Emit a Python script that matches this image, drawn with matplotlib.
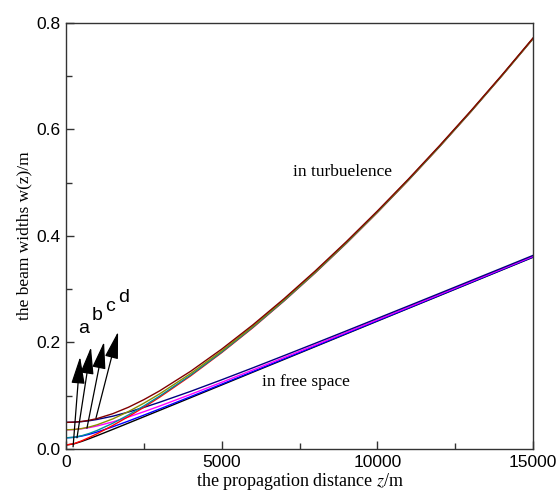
import matplotlib.pyplot as plt

# propagation distance (m)
z = [0, 250, 500, 750, 1000, 1500, 2000, 2500, 3000, 4000, 5000, 6000,
     7000, 8000, 9000, 10000, 11000, 12000, 13000, 14000, 15000]

# free space beam widths (m)
free_a = [0.0075, 0.0096, 0.0142, 0.0195, 0.0251, 0.0368, 0.0486, 0.0605, 0.0724, 0.0963, 0.1202,
          0.1442, 0.1681, 0.1921, 0.2161, 0.2401, 0.2641, 0.2880, 0.3120, 0.3360, 0.3600]
free_b = [0.021, 0.0218, 0.0242, 0.0277, 0.0319, 0.0417, 0.0524, 0.0636, 0.075, 0.0983, 0.1218,
          0.1455, 0.1693, 0.1931, 0.2170, 0.2409, 0.2648, 0.2888, 0.3127, 0.3367, 0.3606]
free_c = [0.036, 0.0365, 0.038, 0.0402, 0.0433, 0.0509, 0.06, 0.07, 0.0805, 0.1025, 0.1253,
          0.1484, 0.1718, 0.1953, 0.219, 0.2427, 0.2664, 0.2902, 0.3141, 0.3379, 0.3618]
free_d = [0.05, 0.0504, 0.0514, 0.0531, 0.0555, 0.0616, 0.0693, 0.0781, 0.0877, 0.1082, 0.13,
          0.1524, 0.1753, 0.1984, 0.2217, 0.2452, 0.2687, 0.2923, 0.316, 0.3397, 0.3635]

# beam widths in turbulence (m)
turb_a = [0.0075, 0.0099, 0.0153, 0.0218, 0.0288, 0.0442, 0.0608, 0.0784, 0.0971, 0.1373, 0.181,
          0.2278, 0.2778, 0.3305, 0.386, 0.4441, 0.5047, 0.5677, 0.633, 0.7006, 0.7702]
turb_b = [0.021, 0.022, 0.0249, 0.0293, 0.0349, 0.0483, 0.0638, 0.0809, 0.0991, 0.1387, 0.182,
          0.2287, 0.2784, 0.3311, 0.3865, 0.4446, 0.5051, 0.568, 0.6333, 0.7008, 0.7705]
turb_c = [0.036, 0.0366, 0.0384, 0.0414, 0.0455, 0.0565, 0.0702, 0.086, 0.1033, 0.1417, 0.1843,
          0.2305, 0.28, 0.3324, 0.3876, 0.4455, 0.506, 0.5688, 0.634, 0.7014, 0.771]
turb_d = [0.05, 0.0504, 0.0517, 0.054, 0.0572, 0.0663, 0.0783, 0.0927, 0.109, 0.1459, 0.1876,
          0.2331, 0.2821, 0.3342, 0.3892, 0.4469, 0.5071, 0.5699, 0.6349, 0.7023, 0.7718]

labels = ['a', 'b', 'c', 'd']
arrow_tails = [(225, 0.004), (350, 0.021), (670, 0.039), (960, 0.058)]
arrow_heads = [(450, 0.173), (800, 0.191), (1220, 0.201), (1670, 0.220)]
label_pos = [(560, 0.226), (1000, 0.250), (1420, 0.268), (1850, 0.285)]

plt.rcParams['mathtext.fontset'] = 'stix'
fig = plt.figure(figsize=(5.6, 4.99), dpi=100)
ax = fig.add_axes([0.118, 0.1002, 0.834, 0.854])

free = [free_a, free_b, free_c, free_d]
turb = [turb_a, turb_b, turb_c, turb_d]
free_cols = ['black', '#0000ff', '#ff00ff', '#000080']
turb_cols = ['#ff0000', '#008c9c', '#8c8c00', '#800000']
for w, c in zip(free, free_cols):
    ax.plot(z, w, color=c, lw=1.0)
for w, c in zip(turb, turb_cols):
    ax.plot(z, w, color=c, lw=1.0)

for t, h, lab, p in zip(arrow_tails, arrow_heads, labels, label_pos):
    ax.annotate('', xy=h, xytext=t,
                arrowprops=dict(arrowstyle='-|>,head_length=1.2,head_width=0.3',
                                mutation_scale=14, color='black', lw=0.9,
                                shrinkA=0, shrinkB=0))
    ax.text(p[0], p[1], lab, fontsize=14, family='Liberation Sans', ha='center', va='center')

ax.text(7290, 0.52, 'in turbuelence', fontsize=12.5, family='Liberation Serif', va='center')
ax.text(6300, 0.126, 'in free space', fontsize=12.5, family='Liberation Serif', va='center')

ax.set_xlim(0, 15000)
ax.set_ylim(0, 0.8)
ax.set_xticks([0, 5000, 10000, 15000])
ax.set_xticks([2500, 7500, 12500], minor=True)
ax.set_yticks([0.0, 0.2, 0.4, 0.6, 0.8])
ax.set_yticklabels(['0.0', '0.2', '0.4', '0.6', '0.8'])
ax.set_yticks([0.1, 0.3, 0.5, 0.7], minor=True)
ax.tick_params(which='both', direction='in', top=False, right=False, width=1.0, color='#333333')
ax.tick_params(which='major', length=6, labelsize=12.5, pad=4)
ax.tick_params(which='minor', length=4)
for lbl in ax.get_xticklabels() + ax.get_yticklabels():
    lbl.set_family('Liberation Sans')
for s in ax.spines.values():
    s.set_color('#333333')
    s.set_linewidth(1.0)

ax.set_xlabel('the propagation distance $\\it{z}$/m', fontsize=13, family='Liberation Serif', labelpad=1)
ax.set_ylabel('the beam widths w(z)/m', fontsize=12.5, family='Liberation Serif', labelpad=3)

fig.savefig('out.png', dpi=100)
